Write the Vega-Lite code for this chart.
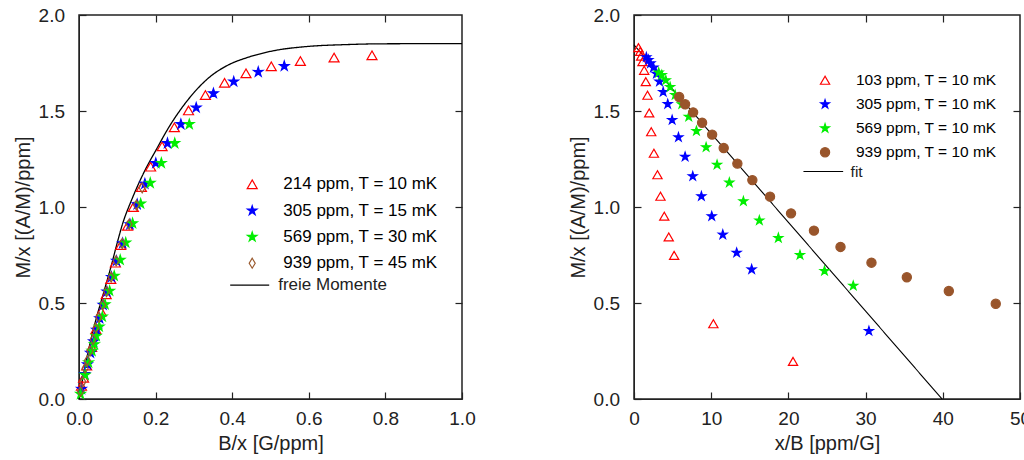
{
  "$schema": "https://vega.github.io/schema/vega-lite/v6.json",
  "padding": {"left": 12, "top": 5, "right": 5, "bottom": 5},
  "config": {
    "view": {"stroke": "#222222", "strokeWidth": 1.5},
    "axis": {
      "labelFont": "Liberation Sans", "titleFont": "Liberation Sans",
      "labelFontSize": 19, "titleFontSize": 20, "titleFontWeight": "normal",
      "labelColor": "#222222", "titleColor": "#222222",
      "tickSize": -7, "tickColor": "#222222", "tickWidth": 1.2,
      "domainColor": "#222222", "grid": false, "labelFlush": false
    },
    "axisX": {"labelPadding": 17.6, "titlePadding": 5},
    "axisY": {"labelPadding": 21.5, "titlePadding": 5},
    "legend": {"labelFont": "Liberation Sans", "padding": 0, "symbolStrokeWidth": 1.2}
  },
  "spacing": 91,
  "resolve": {
    "scale": {"stroke": "independent", "fill": "independent", "shape": "independent", "strokeDash": "independent"}
  },
  "hconcat": [
    {
      "width": 383,
      "height": 384,
      "layer": [
        {
          "data": {"values": [
            {"c": "freie Momente", "x": 0.0, "y": 0.0}, {"c": "freie Momente", "x": 0.02, "y": 0.21},
            {"c": "freie Momente", "x": 0.041, "y": 0.389}, {"c": "freie Momente", "x": 0.063, "y": 0.545},
            {"c": "freie Momente", "x": 0.085, "y": 0.7}, {"c": "freie Momente", "x": 0.098, "y": 0.8},
            {"c": "freie Momente", "x": 0.115, "y": 0.92}, {"c": "freie Momente", "x": 0.137, "y": 1.035},
            {"c": "freie Momente", "x": 0.172, "y": 1.19}, {"c": "freie Momente", "x": 0.202, "y": 1.3},
            {"c": "freie Momente", "x": 0.233, "y": 1.41}, {"c": "freie Momente", "x": 0.268, "y": 1.515},
            {"c": "freie Momente", "x": 0.302, "y": 1.6}, {"c": "freie Momente", "x": 0.337, "y": 1.67},
            {"c": "freie Momente", "x": 0.39, "y": 1.74}, {"c": "freie Momente", "x": 0.442, "y": 1.78},
            {"c": "freie Momente", "x": 0.511, "y": 1.815}, {"c": "freie Momente", "x": 0.59, "y": 1.835},
            {"c": "freie Momente", "x": 0.7, "y": 1.846}, {"c": "freie Momente", "x": 0.79, "y": 1.85},
            {"c": "freie Momente", "x": 1.0, "y": 1.851}
          ]},
          "mark": {"type": "line", "strokeWidth": 1.3, "interpolate": "monotone", "color": "#000000"},
          "encoding": {
            "x": {"field": "x", "type": "quantitative", "scale": {"domain": [0, 1]},
                  "axis": {"orient": "top", "labels": false, "title": null, "values": [0.2, 0.4, 0.6, 0.8], "domain": false}},
            "y": {"field": "y", "type": "quantitative", "scale": {"domain": [0, 2]},
                  "axis": {"orient": "right", "labels": false, "title": null, "values": [0.5, 1, 1.5], "domain": false}},
            "strokeDash": {"field": "c", "type": "nominal", "scale": {"range": [[1, 0]]},
                           "legend": {"orient": "none", "legendX": 150.2, "legendY": 249.7, "title": null,
                                      "symbolSize": 1521, "symbolStrokeWidth": 1.3, "symbolStrokeColor": "#000000",
                                      "labelFontSize": 17, "labelColor": "#222222", "labelOffset": 8}}
          }
        },
        {
          "data": {"values": [
            {"s": "214 ppm, T = 10 mK", "x": 0.765, "y": 1.79},
            {"s": "214 ppm, T = 10 mK", "x": 0.666, "y": 1.778},
            {"s": "214 ppm, T = 10 mK", "x": 0.578, "y": 1.76},
            {"s": "214 ppm, T = 10 mK", "x": 0.502, "y": 1.733},
            {"s": "214 ppm, T = 10 mK", "x": 0.436, "y": 1.696},
            {"s": "214 ppm, T = 10 mK", "x": 0.38, "y": 1.647},
            {"s": "214 ppm, T = 10 mK", "x": 0.33, "y": 1.583},
            {"s": "214 ppm, T = 10 mK", "x": 0.286, "y": 1.503},
            {"s": "214 ppm, T = 10 mK", "x": 0.249, "y": 1.415},
            {"s": "214 ppm, T = 10 mK", "x": 0.217, "y": 1.316},
            {"s": "214 ppm, T = 10 mK", "x": 0.187, "y": 1.21},
            {"s": "214 ppm, T = 10 mK", "x": 0.163, "y": 1.104},
            {"s": "214 ppm, T = 10 mK", "x": 0.142, "y": 1.0},
            {"s": "214 ppm, T = 10 mK", "x": 0.127, "y": 0.902},
            {"s": "214 ppm, T = 10 mK", "x": 0.109, "y": 0.802},
            {"s": "214 ppm, T = 10 mK", "x": 0.095, "y": 0.71},
            {"s": "214 ppm, T = 10 mK", "x": 0.083, "y": 0.625},
            {"s": "214 ppm, T = 10 mK", "x": 0.071, "y": 0.545},
            {"s": "214 ppm, T = 10 mK", "x": 0.058, "y": 0.455},
            {"s": "214 ppm, T = 10 mK", "x": 0.044, "y": 0.363},
            {"s": "214 ppm, T = 10 mK", "x": 0.033, "y": 0.27},
            {"s": "214 ppm, T = 10 mK", "x": 0.02, "y": 0.174},
            {"s": "214 ppm, T = 10 mK", "x": 0.012, "y": 0.11},
            {"s": "214 ppm, T = 10 mK", "x": 0.0065, "y": 0.068},
            {"s": "305 ppm, T = 15 mK", "x": 0.536, "y": 1.734},
            {"s": "305 ppm, T = 15 mK", "x": 0.468, "y": 1.703},
            {"s": "305 ppm, T = 15 mK", "x": 0.404, "y": 1.653},
            {"s": "305 ppm, T = 15 mK", "x": 0.351, "y": 1.592},
            {"s": "305 ppm, T = 15 mK", "x": 0.306, "y": 1.517},
            {"s": "305 ppm, T = 15 mK", "x": 0.266, "y": 1.431},
            {"s": "305 ppm, T = 15 mK", "x": 0.231, "y": 1.332},
            {"s": "305 ppm, T = 15 mK", "x": 0.2005, "y": 1.228},
            {"s": "305 ppm, T = 15 mK", "x": 0.172, "y": 1.121},
            {"s": "305 ppm, T = 15 mK", "x": 0.152, "y": 1.014},
            {"s": "305 ppm, T = 15 mK", "x": 0.133, "y": 0.91},
            {"s": "305 ppm, T = 15 mK", "x": 0.114, "y": 0.811},
            {"s": "305 ppm, T = 15 mK", "x": 0.098, "y": 0.719},
            {"s": "305 ppm, T = 15 mK", "x": 0.085, "y": 0.635},
            {"s": "305 ppm, T = 15 mK", "x": 0.073, "y": 0.559},
            {"s": "305 ppm, T = 15 mK", "x": 0.063, "y": 0.49},
            {"s": "305 ppm, T = 15 mK", "x": 0.054, "y": 0.42},
            {"s": "305 ppm, T = 15 mK", "x": 0.046, "y": 0.36},
            {"s": "305 ppm, T = 15 mK", "x": 0.038, "y": 0.3},
            {"s": "305 ppm, T = 15 mK", "x": 0.03, "y": 0.24},
            {"s": "305 ppm, T = 15 mK", "x": 0.022, "y": 0.18},
            {"s": "305 ppm, T = 15 mK", "x": 0.015, "y": 0.129},
            {"s": "305 ppm, T = 15 mK", "x": 0.0065, "y": 0.052},
            {"s": "569 ppm, T = 30 mK", "x": 0.288, "y": 1.431},
            {"s": "569 ppm, T = 30 mK", "x": 0.25, "y": 1.332},
            {"s": "569 ppm, T = 30 mK", "x": 0.215, "y": 1.229},
            {"s": "569 ppm, T = 30 mK", "x": 0.186, "y": 1.125},
            {"s": "569 ppm, T = 30 mK", "x": 0.161, "y": 1.017},
            {"s": "569 ppm, T = 30 mK", "x": 0.14, "y": 0.915},
            {"s": "569 ppm, T = 30 mK", "x": 0.122, "y": 0.814},
            {"s": "569 ppm, T = 30 mK", "x": 0.1076, "y": 0.724},
            {"s": "569 ppm, T = 30 mK", "x": 0.092, "y": 0.641},
            {"s": "569 ppm, T = 30 mK", "x": 0.08, "y": 0.563},
            {"s": "569 ppm, T = 30 mK", "x": 0.068, "y": 0.493},
            {"s": "569 ppm, T = 30 mK", "x": 0.061, "y": 0.429},
            {"s": "569 ppm, T = 30 mK", "x": 0.053, "y": 0.377},
            {"s": "569 ppm, T = 30 mK", "x": 0.045, "y": 0.328},
            {"s": "569 ppm, T = 30 mK", "x": 0.04, "y": 0.285},
            {"s": "569 ppm, T = 30 mK", "x": 0.034, "y": 0.25},
            {"s": "569 ppm, T = 30 mK", "x": 0.025, "y": 0.19},
            {"s": "569 ppm, T = 30 mK", "x": 0.016, "y": 0.125},
            {"s": "569 ppm, T = 30 mK", "x": 0.004, "y": 0.026},
            {"s": "939 ppm, T = 45 mK", "x": 0.165, "y": 1.1},
            {"s": "939 ppm, T = 45 mK", "x": 0.15, "y": 1.01},
            {"s": "939 ppm, T = 45 mK", "x": 0.131, "y": 0.91},
            {"s": "939 ppm, T = 45 mK", "x": 0.113, "y": 0.81},
            {"s": "939 ppm, T = 45 mK", "x": 0.097, "y": 0.72},
            {"s": "939 ppm, T = 45 mK", "x": 0.084, "y": 0.635},
            {"s": "939 ppm, T = 45 mK", "x": 0.072, "y": 0.56},
            {"s": "939 ppm, T = 45 mK", "x": 0.062, "y": 0.49},
            {"s": "939 ppm, T = 45 mK", "x": 0.052, "y": 0.425},
            {"s": "939 ppm, T = 45 mK", "x": 0.044, "y": 0.37},
            {"s": "939 ppm, T = 45 mK", "x": 0.037, "y": 0.31},
            {"s": "939 ppm, T = 45 mK", "x": 0.029, "y": 0.25},
            {"s": "939 ppm, T = 45 mK", "x": 0.022, "y": 0.2},
            {"s": "939 ppm, T = 45 mK", "x": 0.016, "y": 0.16},
            {"s": "939 ppm, T = 45 mK", "x": 0.01, "y": 0.09},
            {"s": "939 ppm, T = 45 mK", "x": 0.004, "y": 0.04}
          ]},
          "mark": {"type": "point", "filled": true, "size": 100, "strokeWidth": 1.2, "opacity": 1},
          "encoding": {
            "x": {"field": "x", "type": "quantitative", "scale": {"domain": [0, 1]},
                  "axis": {"orient": "bottom", "title": "B/x [G/ppm]", "values": [0, 0.2, 0.4, 0.6, 0.8, 1.0], "format": ".1f"}},
            "y": {"field": "y", "type": "quantitative", "scale": {"domain": [0, 2]},
                  "axis": {"orient": "left", "title": "M/x [(A/M)/ppm]", "values": [0, 0.5, 1, 1.5, 2], "format": ".1f"}},
            "shape": {"field": "s", "type": "nominal",
                      "scale": {"domain": ["214 ppm, T = 10 mK", "305 ppm, T = 15 mK", "569 ppm, T = 30 mK", "939 ppm, T = 45 mK"],
                                "range": ["triangle-up",
                                          "M0,-1L0.223,-0.307L0.951,-0.309L0.361,0.117L0.588,0.809L0,0.38L-0.588,0.809L-0.361,0.117L-0.951,-0.309L-0.223,-0.307Z",
                                          "M0,-1L0.223,-0.307L0.951,-0.309L0.361,0.117L0.588,0.809L0,0.38L-0.588,0.809L-0.361,0.117L-0.951,-0.309L-0.223,-0.307Z",
                                          "M0,-1L0.6,0L0,1L-0.6,0Z"]},
                      "legend": {"orient": "none", "legendX": 164.7, "legendY": 160.8, "title": null, "symbolSize": 100,
                                 "labelFontSize": 17, "labelOffset": 22.6, "rowPadding": 8.3,
                                 "encode": {"labels": {"update": {"fill": {"signal": "datum.value === '214 ppm, T = 10 mK' ? '#ff0000' : datum.value === '305 ppm, T = 15 mK' ? '#0000ff' : datum.value === '569 ppm, T = 30 mK' ? '#00e000' : '#9a5a2e'"}}}}}},
            "stroke": {"field": "s", "type": "nominal",
                       "scale": {"domain": ["214 ppm, T = 10 mK", "305 ppm, T = 15 mK", "569 ppm, T = 30 mK", "939 ppm, T = 45 mK"],
                                 "range": ["#ff0000", "#0000ff", "#00ee00", "#9a5a2e"]},
                       "legend": {"orient": "none", "legendX": 164.7, "legendY": 160.8, "title": null, "symbolSize": 100,
                                  "labelFontSize": 17, "labelOffset": 22.6, "rowPadding": 8.3,
                                  "encode": {"labels": {"update": {"fill": {"signal": "datum.value === '214 ppm, T = 10 mK' ? '#ff0000' : datum.value === '305 ppm, T = 15 mK' ? '#0000ff' : datum.value === '569 ppm, T = 30 mK' ? '#00e000' : '#9a5a2e'"}}}}}},
            "fill": {"field": "s", "type": "nominal",
                     "scale": {"domain": ["214 ppm, T = 10 mK", "305 ppm, T = 15 mK", "569 ppm, T = 30 mK", "939 ppm, T = 45 mK"],
                               "range": ["transparent", "#0000ff", "#00ee00", "transparent"]},
                     "legend": {"orient": "none", "legendX": 164.7, "legendY": 160.8, "title": null, "symbolSize": 100,
                                "labelFontSize": 17, "labelOffset": 22.6, "rowPadding": 8.3,
                                "encode": {"labels": {"update": {"fill": {"signal": "datum.value === '214 ppm, T = 10 mK' ? '#ff0000' : datum.value === '305 ppm, T = 15 mK' ? '#0000ff' : datum.value === '569 ppm, T = 30 mK' ? '#00e000' : '#9a5a2e'"}}}}}}
          }
        }
      ],
      "resolve": {"axis": {"x": "independent", "y": "independent"}}
    },
    {
      "width": 386,
      "height": 384,
      "layer": [
        {
          "data": {"values": [{"c": "fit", "x": 0.0, "y": 1.845}, {"c": "fit", "x": 39.9, "y": 0.0}]},
          "mark": {"type": "line", "strokeWidth": 1.1, "color": "#000000"},
          "encoding": {
            "x": {"field": "x", "type": "quantitative", "scale": {"domain": [0, 50]},
                  "axis": {"orient": "top", "labels": false, "title": null, "values": [10, 20, 30, 40], "domain": false}},
            "y": {"field": "y", "type": "quantitative", "scale": {"domain": [0, 2]},
                  "axis": {"orient": "right", "labels": false, "title": null, "values": [0.5, 1, 1.5], "domain": false}},
            "strokeDash": {"field": "c", "type": "nominal", "scale": {"range": [[1, 0]]},
                           "legend": {"orient": "none", "legendX": 168.8, "legendY": 136, "title": null,
                                      "symbolSize": 1576, "symbolStrokeWidth": 1.1, "symbolStrokeColor": "#000000",
                                      "labelFontSize": 15.5, "labelColor": "#222222", "labelOffset": 6.8}}
          }
        },
        {
          "data": {"values": [
            {"s": "103 ppm, T = 10 mK", "x": 0.58, "y": 1.83},
            {"s": "103 ppm, T = 10 mK", "x": 0.8, "y": 1.81},
            {"s": "103 ppm, T = 10 mK", "x": 0.93, "y": 1.786},
            {"s": "103 ppm, T = 10 mK", "x": 1.1, "y": 1.757},
            {"s": "103 ppm, T = 10 mK", "x": 1.32, "y": 1.712},
            {"s": "103 ppm, T = 10 mK", "x": 1.53, "y": 1.653},
            {"s": "103 ppm, T = 10 mK", "x": 1.75, "y": 1.582},
            {"s": "103 ppm, T = 10 mK", "x": 1.97, "y": 1.49},
            {"s": "103 ppm, T = 10 mK", "x": 2.23, "y": 1.392},
            {"s": "103 ppm, T = 10 mK", "x": 2.58, "y": 1.28},
            {"s": "103 ppm, T = 10 mK", "x": 3.04, "y": 1.168},
            {"s": "103 ppm, T = 10 mK", "x": 3.43, "y": 1.056},
            {"s": "103 ppm, T = 10 mK", "x": 3.92, "y": 0.952},
            {"s": "103 ppm, T = 10 mK", "x": 4.5, "y": 0.844},
            {"s": "103 ppm, T = 10 mK", "x": 5.2, "y": 0.748},
            {"s": "103 ppm, T = 10 mK", "x": 10.28, "y": 0.392},
            {"s": "103 ppm, T = 10 mK", "x": 20.6, "y": 0.196},
            {"s": "305 ppm, T = 10 mK", "x": 1.6, "y": 1.78},
            {"s": "305 ppm, T = 10 mK", "x": 1.87, "y": 1.766},
            {"s": "305 ppm, T = 10 mK", "x": 2.14, "y": 1.748},
            {"s": "305 ppm, T = 10 mK", "x": 2.52, "y": 1.726},
            {"s": "305 ppm, T = 10 mK", "x": 2.91, "y": 1.694},
            {"s": "305 ppm, T = 10 mK", "x": 3.3, "y": 1.653},
            {"s": "305 ppm, T = 10 mK", "x": 3.78, "y": 1.599},
            {"s": "305 ppm, T = 10 mK", "x": 4.37, "y": 1.536},
            {"s": "305 ppm, T = 10 mK", "x": 4.94, "y": 1.453},
            {"s": "305 ppm, T = 10 mK", "x": 5.76, "y": 1.363},
            {"s": "305 ppm, T = 10 mK", "x": 6.62, "y": 1.262},
            {"s": "305 ppm, T = 10 mK", "x": 7.61, "y": 1.16},
            {"s": "305 ppm, T = 10 mK", "x": 8.73, "y": 1.056},
            {"s": "305 ppm, T = 10 mK", "x": 10.07, "y": 0.952},
            {"s": "305 ppm, T = 10 mK", "x": 11.5, "y": 0.856},
            {"s": "305 ppm, T = 10 mK", "x": 13.3, "y": 0.762},
            {"s": "305 ppm, T = 10 mK", "x": 15.24, "y": 0.675},
            {"s": "305 ppm, T = 10 mK", "x": 30.43, "y": 0.354},
            {"s": "569 ppm, T = 10 mK", "x": 3.2, "y": 1.7},
            {"s": "569 ppm, T = 10 mK", "x": 3.6, "y": 1.6875},
            {"s": "569 ppm, T = 10 mK", "x": 4.12, "y": 1.66},
            {"s": "569 ppm, T = 10 mK", "x": 4.68, "y": 1.625},
            {"s": "569 ppm, T = 10 mK", "x": 5.33, "y": 1.583},
            {"s": "569 ppm, T = 10 mK", "x": 6.19, "y": 1.535},
            {"s": "569 ppm, T = 10 mK", "x": 7.09, "y": 1.47},
            {"s": "569 ppm, T = 10 mK", "x": 8.09, "y": 1.396},
            {"s": "569 ppm, T = 10 mK", "x": 9.34, "y": 1.311},
            {"s": "569 ppm, T = 10 mK", "x": 10.76, "y": 1.22},
            {"s": "569 ppm, T = 10 mK", "x": 12.35, "y": 1.127},
            {"s": "569 ppm, T = 10 mK", "x": 14.17, "y": 1.03},
            {"s": "569 ppm, T = 10 mK", "x": 16.24, "y": 0.93},
            {"s": "569 ppm, T = 10 mK", "x": 18.7, "y": 0.839},
            {"s": "569 ppm, T = 10 mK", "x": 21.5, "y": 0.75},
            {"s": "569 ppm, T = 10 mK", "x": 24.68, "y": 0.667},
            {"s": "569 ppm, T = 10 mK", "x": 28.4, "y": 0.59},
            {"s": "939 ppm, T = 10 mK", "x": 5.85, "y": 1.573},
            {"s": "939 ppm, T = 10 mK", "x": 6.62, "y": 1.535},
            {"s": "939 ppm, T = 10 mK", "x": 7.66, "y": 1.493},
            {"s": "939 ppm, T = 10 mK", "x": 8.82, "y": 1.439},
            {"s": "939 ppm, T = 10 mK", "x": 10.12, "y": 1.377},
            {"s": "939 ppm, T = 10 mK", "x": 11.62, "y": 1.307},
            {"s": "939 ppm, T = 10 mK", "x": 13.39, "y": 1.226},
            {"s": "939 ppm, T = 10 mK", "x": 15.33, "y": 1.14},
            {"s": "939 ppm, T = 10 mK", "x": 17.62, "y": 1.054},
            {"s": "939 ppm, T = 10 mK", "x": 20.34, "y": 0.967},
            {"s": "939 ppm, T = 10 mK", "x": 23.31, "y": 0.877},
            {"s": "939 ppm, T = 10 mK", "x": 26.75, "y": 0.792},
            {"s": "939 ppm, T = 10 mK", "x": 30.76, "y": 0.71},
            {"s": "939 ppm, T = 10 mK", "x": 35.34, "y": 0.634},
            {"s": "939 ppm, T = 10 mK", "x": 40.78, "y": 0.5625},
            {"s": "939 ppm, T = 10 mK", "x": 46.86, "y": 0.496}
          ]},
          "mark": {"type": "point", "filled": true, "size": 85, "strokeWidth": 1.2, "opacity": 1},
          "encoding": {
            "x": {"field": "x", "type": "quantitative", "scale": {"domain": [0, 50]},
                  "axis": {"orient": "bottom", "title": "x/B [ppm/G]", "values": [0, 10, 20, 30, 40, 50], "format": "d"}},
            "y": {"field": "y", "type": "quantitative", "scale": {"domain": [0, 2]},
                  "axis": {"orient": "left", "title": "M/x [(A/M)/ppm]", "values": [0, 0.5, 1, 1.5, 2], "format": ".1f"}},
            "shape": {"field": "s", "type": "nominal",
                      "scale": {"domain": ["103 ppm, T = 10 mK", "305 ppm, T = 10 mK", "569 ppm, T = 10 mK", "939 ppm, T = 10 mK"],
                                "range": ["triangle-up",
                                          "M0,-1L0.223,-0.307L0.951,-0.309L0.361,0.117L0.588,0.809L0,0.38L-0.588,0.809L-0.361,0.117L-0.951,-0.309L-0.223,-0.307Z",
                                          "M0,-1L0.223,-0.307L0.951,-0.309L0.361,0.117L0.588,0.809L0,0.38L-0.588,0.809L-0.361,0.117L-0.951,-0.309L-0.223,-0.307Z",
                                          "circle"]},
                      "legend": {"orient": "none", "legendX": 183.3, "legendY": 57.5, "title": null, "symbolSize": 85,
                                 "labelFontSize": 15.5, "labelOffset": 23.1, "rowPadding": 7,
                                 "encode": {"labels": {"update": {"fill": {"signal": "datum.value === '103 ppm, T = 10 mK' ? '#ff0000' : datum.value === '305 ppm, T = 10 mK' ? '#0000ff' : datum.value === '569 ppm, T = 10 mK' ? '#00e000' : '#9a5a2e'"}}}}}},
            "stroke": {"field": "s", "type": "nominal",
                       "scale": {"domain": ["103 ppm, T = 10 mK", "305 ppm, T = 10 mK", "569 ppm, T = 10 mK", "939 ppm, T = 10 mK"],
                                 "range": ["#ff0000", "#0000ff", "#00ee00", "#99552b"]},
                       "legend": {"orient": "none", "legendX": 183.3, "legendY": 57.5, "title": null, "symbolSize": 85,
                                  "labelFontSize": 15.5, "labelOffset": 23.1, "rowPadding": 7,
                                  "encode": {"labels": {"update": {"fill": {"signal": "datum.value === '103 ppm, T = 10 mK' ? '#ff0000' : datum.value === '305 ppm, T = 10 mK' ? '#0000ff' : datum.value === '569 ppm, T = 10 mK' ? '#00e000' : '#9a5a2e'"}}}}}},
            "fill": {"field": "s", "type": "nominal",
                     "scale": {"domain": ["103 ppm, T = 10 mK", "305 ppm, T = 10 mK", "569 ppm, T = 10 mK", "939 ppm, T = 10 mK"],
                               "range": ["transparent", "#0000ff", "#00ee00", "#99552b"]},
                     "legend": {"orient": "none", "legendX": 183.3, "legendY": 57.5, "title": null, "symbolSize": 85,
                                "labelFontSize": 15.5, "labelOffset": 23.1, "rowPadding": 7,
                                "encode": {"labels": {"update": {"fill": {"signal": "datum.value === '103 ppm, T = 10 mK' ? '#ff0000' : datum.value === '305 ppm, T = 10 mK' ? '#0000ff' : datum.value === '569 ppm, T = 10 mK' ? '#00e000' : '#9a5a2e'"}}}}}}
          }
        }
      ],
      "resolve": {"axis": {"x": "independent", "y": "independent"}}
    }
  ]
}
